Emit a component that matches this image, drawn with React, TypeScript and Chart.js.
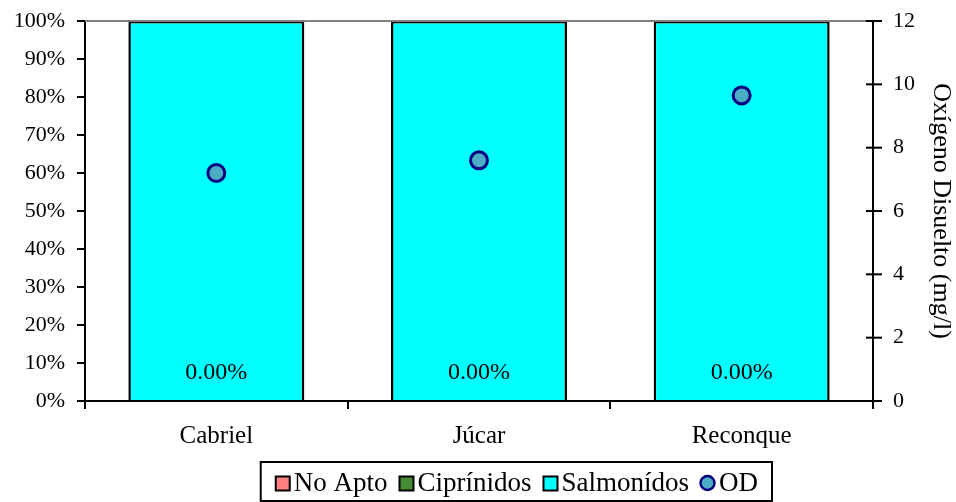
import React, { useEffect, useRef } from "react";
import { Chart, registerables } from "chart.js";

Chart.register(...registerables);

const categories = ["Cabriel", "Júcar", "Reconque"];
const noApto = [0, 0, 0];
const ciprinidos = [0, 0, 0];
const salmonidos = [100, 100, 100];
const od = [7.2, 7.6, 9.65];
const labelValues = [0, 0, 0];

const FONT = "Liberation Serif";

const decorPlugin = {
  id: "decor",
  afterDraw(chart: any) {
    const ctx = chart.ctx;
    const area = chart.chartArea;
    const y1 = chart.scales.y1;
    const y = chart.scales.y;
    const x = chart.scales.x;
    ctx.save();
    // top gray line
    ctx.strokeStyle = "#808080";
    ctx.lineWidth = 2;
    ctx.beginPath();
    ctx.moveTo(area.left, area.top);
    ctx.lineTo(area.right, area.top);
    ctx.stroke();
    // tick marks: left axis outside, right axis crossing
    ctx.strokeStyle = "#000";
    ctx.lineWidth = 2;
    y.ticks.forEach((t: any) => {
      const py = y.getPixelForValue(t.value);
      ctx.beginPath();
      ctx.moveTo(area.left - 8, py);
      ctx.lineTo(area.left, py);
      ctx.stroke();
    });
    y1.ticks.forEach((t: any) => {
      const py = y1.getPixelForValue(t.value);
      ctx.beginPath();
      ctx.moveTo(area.right - 7, py);
      ctx.lineTo(area.right + 9, py);
      ctx.stroke();
    });
    // data labels
    ctx.fillStyle = "#000";
    ctx.font = `24px "${FONT}"`;
    ctx.textAlign = "center";
    ctx.textBaseline = "middle";
    labelValues.forEach((v, i) => {
      const px = x.getPixelForValue(i);
      const py = y.getPixelForValue(v) - 28;
      ctx.fillText(v.toFixed(2) + "%", px, py);
    });
    // legend
    const ds = chart.data.datasets;
    const items = [ds[0], ds[1], ds[2], ds[3]];
    ctx.font = `27px "${FONT}"`;
    ctx.textAlign = "left";
    const marker = 15, gap = 4, sep = 11, pad = 14;
    let total = 0;
    items.forEach((d: any, i: number) => {
      total += marker + gap + ctx.measureText(d.label).width + (i < items.length - 1 ? sep : 0);
    });
    const boxR = 772, boxT = 462, boxB = 501;
    const boxL = boxR - total - 2 * pad;
    let cx = boxL + pad;
    const cy = 483;
    items.forEach((d: any) => {
      if (d.type === "line") {
        ctx.beginPath();
        ctx.arc(cx + marker / 2, cy, marker / 2 - 0.5, 0, Math.PI * 2);
        ctx.fillStyle = d.backgroundColor;
        ctx.fill();
        ctx.lineWidth = 2.5;
        ctx.strokeStyle = d.borderColor;
        ctx.stroke();
      } else {
        ctx.fillStyle = d.backgroundColor;
        ctx.fillRect(cx + 1, cy - marker / 2 + 1, marker - 1, marker - 1);
        ctx.lineWidth = 2;
        ctx.strokeStyle = "#000";
        ctx.strokeRect(cx + 1, cy - marker / 2 + 1, marker - 1, marker - 1);
      }
      cx += marker + gap;
      ctx.fillStyle = "#000";
      ctx.fillText(d.label, cx, cy + 1);
      cx += ctx.measureText(d.label).width + sep;
    });
    ctx.lineWidth = 2;
    ctx.strokeStyle = "#000";
    ctx.strokeRect(boxL, boxT, boxR - boxL, boxB - boxT);
    ctx.restore();
  },
};

export default function App() {
  const ref = useRef<HTMLCanvasElement>(null);
  useEffect(() => {
    Chart.defaults.font.family = FONT;
    Chart.defaults.font.size = 22;
    Chart.defaults.color = "#000";
    const chart = new Chart(ref.current as HTMLCanvasElement, {
      type: "bar",
      data: {
        labels: categories,
        datasets: [
          { label: "No Apto", data: noApto, backgroundColor: "#FF8080", borderColor: "#000", borderWidth: 2, order: 1, yAxisID: "y" },
          { label: "Ciprínidos", data: ciprinidos, backgroundColor: "#468A36", borderColor: "#000", borderWidth: 2, order: 1, yAxisID: "y" },
          { label: "Salmonídos", data: salmonidos, backgroundColor: "#00FFFF", borderColor: "#000", borderWidth: 2.5, order: 1, yAxisID: "y" },
          {
            type: "line",
            label: "OD",
            data: od,
            showLine: false,
            yAxisID: "y1",
            order: 0,
            backgroundColor: "#4BACC6",
            borderColor: "#000080",
            pointRadius: 8.5,
            pointBorderWidth: 3,
            pointBackgroundColor: "#4BACC6",
            pointBorderColor: "#000080",
          } as any,
        ],
      },
      options: {
        responsive: false,
        animation: false,
        layout: { padding: { top: 21, left: 0, right: 0, bottom: 0 } },
        datasets: { bar: { barPercentage: 0.67, categoryPercentage: 1 } },
        plugins: { legend: { display: false }, tooltip: { enabled: false } },
        scales: {
          x: {
            stacked: true,
            offset: true,
            grid: { display: true, drawOnChartArea: false, drawTicks: true, tickLength: 8, color: "#000", lineWidth: 2, offset: true },
            border: { display: true, color: "#000", width: 2 },
            ticks: { padding: 12, font: { family: FONT, size: 25 }, color: "#000" },
            afterFit: (s: any) => { s.height = 101; },
          },
          y: {
            stacked: true,
            position: "left",
            min: 0,
            max: 100,
            ticks: { stepSize: 10, padding: 0, callback: (v: any) => v + "%", font: { family: FONT, size: 22 }, color: "#000" },
            grid: { display: true, drawOnChartArea: false, drawTicks: true, tickLength: 20, tickColor: "rgba(0,0,0,0)", color: "#000", lineWidth: 2 },
            border: { display: true, color: "#000", width: 2 },
            afterFit: (s: any) => { s.width = 85; },
          },
          y1: {
            position: "right",
            min: 0,
            max: 12,
            ticks: { stepSize: 2, padding: 0, font: { family: FONT, size: 22 }, color: "#000" },
            grid: { display: true, drawOnChartArea: false, drawTicks: true, tickLength: 20, tickColor: "rgba(0,0,0,0)", color: "#000", lineWidth: 2 },
            border: { display: true, color: "#000", width: 2 },
            title: { display: true, text: "Oxígeno Disuelto (mg/l)", padding: 0, font: { family: FONT, size: 26 }, color: "#000" },
            afterFit: (s: any) => { s.width = 83; },
          },
        },
      } as any,
      plugins: [decorPlugin],
    });
    return () => chart.destroy();
  }, []);
  return (
    <div style={{ position: "fixed", left: 0, top: 0, width: 956, height: 502, background: "#fff" }}>
      <canvas ref={ref} width={956} height={502} style={{ display: "block" }} />
    </div>
  );
}
